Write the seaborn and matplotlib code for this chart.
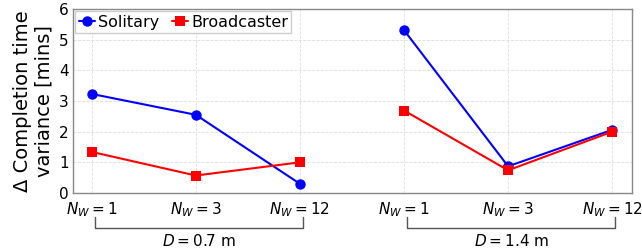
import pandas as pd
import matplotlib.pyplot as plt
import matplotlib.transforms as mtransforms
import seaborn as sns

# Values
groups = ['0.7', '1.4']
nw_labels = ['1', '3', '12']
solitary = {'0.7': [3.23, 2.55, 0.30], '1.4': [5.31, 0.87, 2.06]}
broadcaster = {'0.7': [1.34, 0.57, 1.00], '1.4': [2.69, 0.74, 2.00]}

rows = []
for gi, g in enumerate(groups):
    for i, nw in enumerate(nw_labels):
        rows.append({'x': gi * 3 + i, 'D': g, 'series': 'Solitary', 'value': solitary[g][i]})
        rows.append({'x': gi * 3 + i, 'D': g, 'series': 'Broadcaster', 'value': broadcaster[g][i]})
df = pd.DataFrame(rows)

sns.set_style('whitegrid')
plt.rcParams['font.family'] = ['DejaVu Sans']
plt.rcParams['text.color'] = 'black'
plt.rcParams['xtick.color'] = 'black'
plt.rcParams['ytick.color'] = 'black'
plt.rcParams['axes.labelcolor'] = 'black'

fig = plt.figure(figsize=(6.42, 2.49), dpi=100)
ax = fig.add_axes([0.1137, 0.2249, 0.8707, 0.739])

palette = {'Solitary': 'blue', 'Broadcaster': 'red'}
markers = {'Solitary': 'o', 'Broadcaster': 's'}
for g in groups:
    sub = df[df['D'] == g]
    sns.lineplot(data=sub, x='x', y='value', hue='series', style='series',
                 hue_order=['Solitary', 'Broadcaster'], style_order=['Solitary', 'Broadcaster'],
                 palette=palette, markers=markers, dashes=False, markersize=7.5,
                 markeredgewidth=0, linewidth=1.5, legend=False, ax=ax)

# legend
handles = [plt.Line2D([], [], color=palette[s], marker=markers[s], markersize=7.5,
                      markeredgewidth=0, lw=1.5)
           for s in ['Solitary', 'Broadcaster']]
ax.legend(handles, ['Solitary', 'Broadcaster'], loc='upper left', fontsize=11.5,
          handlelength=1.0, handletextpad=0.2, columnspacing=0.8, ncol=2,
          borderpad=0.2, borderaxespad=0.15, frameon=True, framealpha=1,
          edgecolor='#cccccc', fancybox=False)

ax.set_xlim(-0.18, 5.19)
ax.set_ylim(0, 6)
ax.set_yticks(range(0, 7))
ax.set_xticks(range(6))
ax.set_xticklabels([r'$N_W = %s$' % n for n in nw_labels] * 2, fontsize=11)
ax.tick_params(axis='y', labelsize=11, length=0, pad=3)
ax.tick_params(axis='x', length=4, color='#aaaaaa', pad=1)
ax.set_xlabel('')
ax.set_ylabel('Δ Completion time\nvariance [mins]', fontsize=14, labelpad=4)
ax.grid(True, color='#dddddd', linestyle='--', linewidth=0.6)
for sp in ax.spines.values():
    sp.set_color('#888888')
    sp.set_linewidth(1.0)

# group brackets under the tick labels
trans = mtransforms.blended_transform_factory(ax.transData, ax.transAxes)
for gi, g in enumerate(groups):
    x0, x1 = gi * 3 + 0.03, gi * 3 + 2.03
    ax.plot([x0, x0, x1, x1], [-0.13, -0.19, -0.19, -0.13], color='#555555',
            lw=1.0, transform=trans, clip_on=False)
    ax.text((x0 + x1) / 2, -0.26, r'$D = $' + g + ' m', transform=trans,
            ha='center', va='center', fontsize=11)

fig.savefig('out.png', dpi=100)
